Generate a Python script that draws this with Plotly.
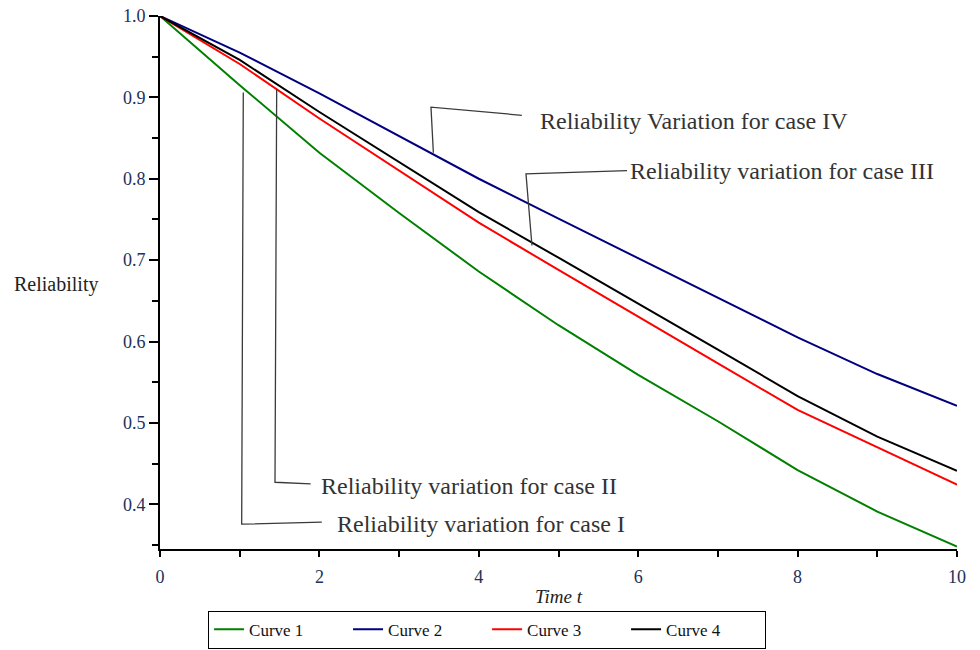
import plotly.graph_objects as go

# ---- data ----
t = [0, 1, 2, 3, 4, 5, 6, 7, 8, 9, 10]
curve1 = [1.000, 0.915, 0.832, 0.758, 0.686, 0.620, 0.559, 0.502, 0.442, 0.391, 0.348]
curve2 = [1.000, 0.955, 0.905, 0.852, 0.800, 0.751, 0.702, 0.653, 0.605, 0.560, 0.521]
curve3 = [1.000, 0.941, 0.874, 0.810, 0.746, 0.688, 0.630, 0.573, 0.516, 0.470, 0.424]
curve4 = [1.000, 0.946, 0.882, 0.820, 0.759, 0.703, 0.647, 0.590, 0.533, 0.483, 0.441]
names = ["Curve 1", "Curve 2", "Curve 3", "Curve 4"]
colors = ["#008000", "#000080", "#ff0000", "#000000"]

x_ticks = [0, 2, 4, 6, 8, 10]
y_ticks = [0.4, 0.5, 0.6, 0.7, 0.8, 0.9, 1.0]

# callout labels: text, anchor of text, polyline of leader (data coords)
callout_text = ["Reliability variation for case I",
                "Reliability variation for case II",
                "Reliability variation for case III",
                "Reliability Variation for case IV"]
callout_text_pos = [(2.19, 0.3755), (2.00, 0.423), (5.87, 0.810), (4.74, 0.871)]
callout_path_x = [[1.045, 1.025, 2.03], [1.464, 1.443, 1.89], [4.667, 4.592, 5.86], [3.43, 3.40, 4.54]]
callout_path_y = [[0.906, 0.3755, 0.378], [0.910, 0.427, 0.425], [0.718, 0.806, 0.810], [0.832, 0.888, 0.878]]

SERIF = "'Liberation Serif', 'Times New Roman', Times, 'DejaVu Serif', serif"
TICKCOL = "#22305a"

fig = go.Figure()
for name, col, ys in zip(names, colors, [curve1, curve2, curve3, curve4]):
    fig.add_trace(go.Scatter(x=t, y=ys, mode="lines", name=name,
                             line=dict(color=col, width=2)))

for px, py in zip(callout_path_x, callout_path_y):
    fig.add_trace(go.Scatter(x=px, y=py, mode="lines", showlegend=False,
                             hoverinfo="skip", line=dict(color="#3a3a3a", width=1.3)))

for txt, (tx, ty) in zip(callout_text, callout_text_pos):
    fig.add_annotation(x=tx, y=ty, xref="x", yref="y", text=txt, showarrow=False,
                       xanchor="left", yanchor="middle",
                       font=dict(family=SERIF, size=24, color="#333333"))

fig.add_annotation(x=-0.186, y=0.496, xref="paper", yref="paper", text="Reliability",
                   showarrow=False, xanchor="left", yanchor="middle",
                   font=dict(family=SERIF, size=20, color="#222222"))

# x-axis title placed below tick labels
fig.add_annotation(x=0.5, y=-0.09, xref="paper", yref="paper", text="<i>Time t</i>",
                   showarrow=False, xanchor="center", yanchor="middle",
                   font=dict(family=SERIF, size=19, color="#222222"))

fig.update_layout(
    width=980, height=650,
    margin=dict(l=160, r=23, t=16, b=101, autoexpand=False),
    plot_bgcolor="white", paper_bgcolor="white",
    showlegend=True,
    legend=dict(orientation="h", xref="container", x=0.497, xanchor="center",
                yref="container", y=0.002, yanchor="bottom",
                bordercolor="black", borderwidth=1,
                font=dict(family=SERIF, size=17, color="#111111"),
                entrywidth=94, entrywidthmode="pixels", tracegroupgap=0),
    xaxis=dict(range=[0, 10], tickvals=x_ticks, ticks="outside", ticklen=6,
               tickwidth=1.5, tickcolor="black", showline=True, linecolor="black",
               linewidth=1.8, showgrid=False, zeroline=False, automargin=False,
               ticklabelstandoff=4,
               tickfont=dict(family=SERIF, size=18, color=TICKCOL),
               minor=dict(dtick=1, tick0=0, ticks="outside", ticklen=6,
                          tickwidth=1.5, tickcolor="black", showgrid=False)),
    yaxis=dict(range=[0.345, 1.0], tickvals=y_ticks, tickformat=".1f",
               ticks="outside", ticklen=9, tickwidth=1.5, tickcolor="black",
               showline=True, linecolor="black", linewidth=1.8, automargin=False,
               showgrid=False, zeroline=False,
               tickfont=dict(family=SERIF, size=18, color=TICKCOL),
               minor=dict(dtick=0.05, tick0=0, ticks="outside", ticklen=6,
                          tickwidth=1.5, tickcolor="black", showgrid=False)),
)

fig.write_html("out.html")
